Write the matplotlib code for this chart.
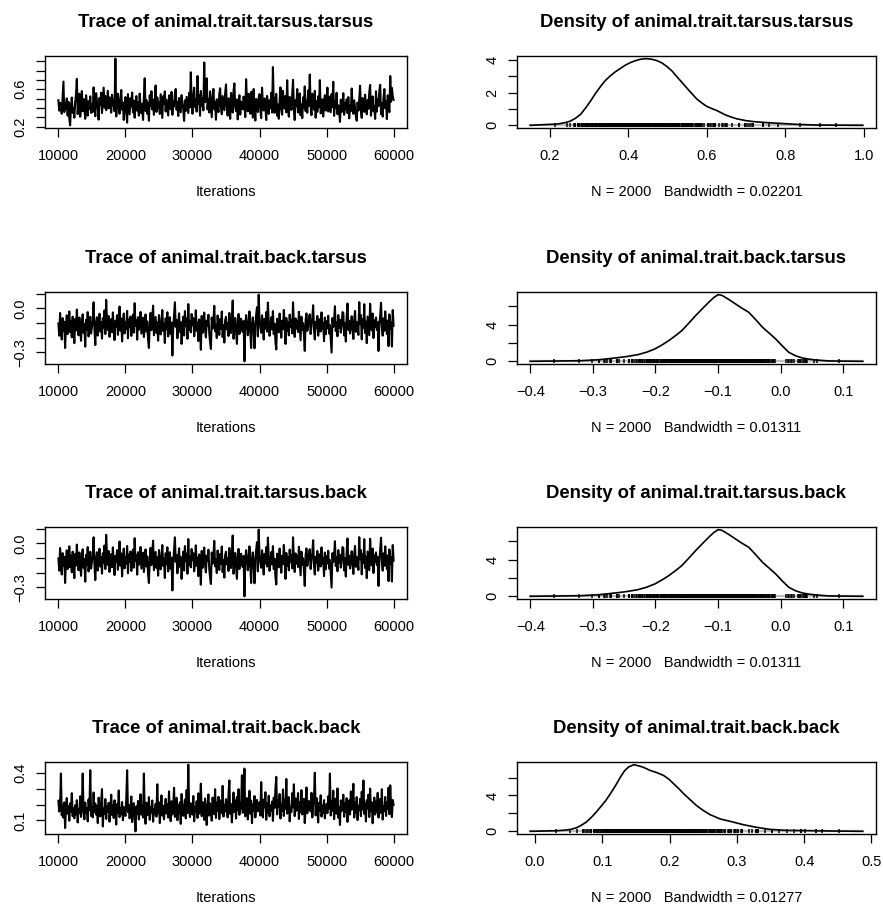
import numpy as np
import matplotlib
matplotlib.use('Agg')
import matplotlib.pyplot as plt

plt.rcParams['font.family'] = ['Liberation Sans', 'DejaVu Sans']
plt.rcParams['axes.unicode_minus'] = True

# Iteraciones de la cadena (muestreo aproximado cada 125)
iters = np.arange(10000, 60001, 125)

# Trazas
trace_tarsus_tarsus = [
    0.482, 0.371, 0.455, 0.402, 0.338, 0.521, 0.683, 0.356, 0.447, 0.392, 0.503, 0.318, 0.466, 0.287, 0.214, 0.425, 0.512, 0.348, 0.401, 0.296,
    0.462, 0.539, 0.712, 0.334, 0.471, 0.553, 0.306, 0.428, 0.581, 0.365, 0.497, 0.412, 0.284, 0.536, 0.443, 0.318, 0.472, 0.389, 0.525, 0.347,
    0.436, 0.358, 0.621, 0.414, 0.312, 0.559, 0.467, 0.392, 0.275, 0.508, 0.431, 0.563, 0.345, 0.486, 0.618, 0.402, 0.529, 0.377, 0.451, 0.583,
    0.396, 0.514, 0.462, 0.349, 0.541, 0.427, 0.488, 0.365, 0.928, 0.309, 0.476, 0.553, 0.412, 0.338, 0.497, 0.592, 0.381, 0.456, 0.272, 0.423,
    0.517, 0.364, 0.243, 0.548, 0.439, 0.331, 0.502, 0.415, 0.566, 0.352, 0.478, 0.296, 0.433, 0.527, 0.371, 0.462, 0.318, 0.554, 0.408, 0.343,
    0.446, 0.272, 0.521, 0.718, 0.367, 0.484, 0.339, 0.452, 0.263, 0.536, 0.418, 0.579, 0.383, 0.491, 0.327, 0.465, 0.641, 0.358, 0.513, 0.402,
    0.457, 0.336, 0.548, 0.412, 0.293, 0.526, 0.441, 0.578, 0.362, 0.488, 0.403, 0.319, 0.535, 0.456, 0.385, 0.572, 0.327, 0.473, 0.414, 0.549,
    0.603, 0.381, 0.462, 0.314, 0.507, 0.426, 0.355, 0.538, 0.447, 0.392, 0.262, 0.481, 0.368, 0.519, 0.433, 0.346, 0.562, 0.407, 0.782, 0.452,
    0.338, 0.526, 0.617, 0.409, 0.493, 0.361, 0.742, 0.445, 0.538, 0.317, 0.582, 0.426, 0.503, 0.374, 0.887, 0.462, 0.551, 0.718, 0.384, 0.496,
    0.352, 0.578, 0.431, 0.301, 0.515, 0.604, 0.386, 0.462, 0.274, 0.493, 0.418, 0.356, 0.547, 0.611, 0.402, 0.333, 0.528, 0.447, 0.376, 0.559,
    0.652, 0.394, 0.318, 0.503, 0.438, 0.283, 0.561, 0.472, 0.351, 0.584, 0.663, 0.409, 0.366, 0.491, 0.278, 0.452, 0.537, 0.329, 0.468, 0.413,
    0.385, 0.521, 0.446, 0.302, 0.708, 0.473, 0.364, 0.552, 0.418, 0.338, 0.574, 0.427, 0.296, 0.603, 0.388, 0.265, 0.496, 0.432, 0.357, 0.512,
    0.548, 0.372, 0.291, 0.617, 0.438, 0.373, 0.502, 0.412, 0.271, 0.529, 0.454, 0.336, 0.482, 0.398, 0.563, 0.351, 0.838, 0.423, 0.347, 0.492,
    0.551, 0.318, 0.436, 0.284, 0.472, 0.621, 0.389, 0.328, 0.583, 0.447, 0.394, 0.526, 0.353, 0.697, 0.412, 0.306, 0.518, 0.462, 0.379, 0.543,
    0.702, 0.385, 0.271, 0.482, 0.417, 0.603, 0.352, 0.468, 0.556, 0.322, 0.437, 0.291, 0.514, 0.402, 0.631, 0.366, 0.478, 0.348, 0.587, 0.425,
    0.758, 0.416, 0.323, 0.552, 0.437, 0.382, 0.583, 0.296, 0.471, 0.358, 0.524, 0.407, 0.698, 0.342, 0.386, 0.493, 0.308, 0.462, 0.537, 0.372,
    0.446, 0.618, 0.362, 0.521, 0.437, 0.354, 0.548, 0.412, 0.681, 0.315, 0.472, 0.398, 0.563, 0.333, 0.428, 0.371, 0.251, 0.489, 0.356, 0.438,
    0.558, 0.327, 0.452, 0.381, 0.493, 0.346, 0.517, 0.289, 0.426, 0.365, 0.608, 0.414, 0.337, 0.482, 0.395, 0.318, 0.263, 0.457, 0.372, 0.486,
    0.638, 0.371, 0.294, 0.507, 0.422, 0.358, 0.543, 0.413, 0.332, 0.486, 0.392, 0.571, 0.647, 0.317, 0.448, 0.524, 0.364, 0.416, 0.283, 0.579,
    0.362, 0.497, 0.421, 0.586, 0.648, 0.334, 0.452, 0.308, 0.513, 0.603, 0.397, 0.472, 0.281, 0.536, 0.428, 0.355, 0.742, 0.468, 0.615, 0.524,
    0.487]

trace_back_tarsus = [
    -0.104, -0.187, -0.032, -0.142, -0.213, -0.067, -0.156, -0.092, -0.271, -0.121, -0.048, -0.176, -0.113, -0.021, -0.163, -0.085, -0.198, -0.057, -0.134, -0.238,
    -0.072, -0.151, -0.009, -0.118, -0.184, -0.063, -0.137, -0.222, -0.096, -0.041, -0.167, -0.109, -0.262, -0.079, -0.145, -0.026, -0.192, -0.114, -0.058, -0.173,
    -0.127, -0.083, 0.041, -0.141, -0.251, -0.102, -0.061, -0.186, -0.119, -0.037, -0.158, -0.094, -0.207, -0.068, -0.132, -0.015, -0.176, 0.058, -0.089, -0.148,
    -0.053, -0.195, -0.117, -0.074, -0.163, -0.028, -0.138, -0.217, -0.086, -0.124, -0.047, -0.181, -0.101, 0.012, -0.152, -0.069, -0.226, -0.112, -0.036, -0.171,
    -0.093, -0.139, -0.018, -0.204, -0.077, -0.128, -0.056, -0.189, -0.108, -0.043, -0.166, 0.035, -0.121, -0.082, -0.214, -0.061, -0.147, -0.098, -0.025, -0.173,
    -0.117, -0.064, -0.196, -0.133, -0.042, -0.158, -0.089, -0.212, -0.271, -0.106, -0.031, -0.149, -0.073, 0.018, -0.184, -0.125, -0.059, -0.168, -0.097, -0.221,
    -0.046, -0.131, -0.178, -0.083, -0.012, -0.155, -0.104, -0.237, -0.068, -0.143, -0.027, -0.192, -0.115, -0.061, -0.174, -0.098, -0.322, -0.136, -0.052, 0.041,
    -0.126, -0.079, -0.205, -0.112, -0.034, -0.161, -0.093, -0.243, -0.138, -0.057, -0.186, -0.019, -0.122, -0.071, -0.208, 0.029, -0.147, -0.088, -0.164, -0.039,
    -0.113, -0.067, -0.191, -0.135, -0.014, -0.153, -0.098, -0.224, -0.076, -0.129, -0.283, -0.052, -0.168, -0.107, -0.029, -0.146, -0.199, -0.084, -0.121, -0.044,
    -0.172, -0.231, -0.278, -0.063, -0.139, -0.091, 0.017, -0.157, -0.108, -0.203, -0.049, -0.126, -0.182, -0.073, -0.141, -0.022, -0.197, -0.116, -0.234, -0.081,
    -0.058, -0.144, -0.101, -0.189, -0.032, -0.127, -0.169, -0.087, 0.053, -0.208, -0.119, -0.066, -0.153, -0.243, -0.094, -0.038, -0.176, -0.112, -0.071, -0.137,
    -0.162, -0.086, -0.362, -0.123, -0.047, -0.091, -0.184, -0.134, -0.021, -0.157, -0.271, -0.104, -0.062, -0.143, -0.273, -0.116, -0.045, 0.008, -0.192, 0.093,
    -0.083, -0.131, -0.167, -0.048, -0.109, -0.213, -0.072, -0.138, -0.026, -0.159, 0.039, -0.097, -0.188, -0.124, -0.061, -0.145, -0.019, -0.176, -0.105, -0.229,
    -0.281, -0.071, -0.118, -0.164, -0.036, -0.129, -0.201, -0.085, -0.142, -0.011, -0.107, -0.243, -0.066, -0.152, -0.094, -0.185, -0.043, -0.126, -0.078, -0.171,
    0.041, -0.114, -0.196, -0.069, -0.138, -0.088, -0.162, -0.024, -0.121, -0.218, -0.057, -0.146, -0.101, -0.178, -0.291, -0.082, -0.035, -0.154, -0.116, -0.063,
    -0.041, -0.176, -0.111, -0.068, 0.021, -0.149, -0.213, -0.092, -0.131, -0.052, -0.187, -0.119, -0.074, -0.158, -0.028, -0.141, -0.098, -0.224, -0.063, -0.177,
    -0.089, -0.136, -0.051, -0.172, -0.114, -0.203, -0.302, -0.067, -0.128, -0.083, 0.014, -0.156, -0.097, -0.191, -0.046, -0.133, -0.079, -0.166, -0.118, -0.026,
    -0.031, -0.185, -0.102, -0.227, -0.061, 0.033, -0.147, -0.085, -0.172, -0.119, -0.054, -0.139, -0.209, -0.076, -0.018, -0.161, -0.093, -0.128, -0.182, 0.042,
    -0.108, -0.047, -0.212, -0.074, -0.135, 0.028, -0.169, -0.091, -0.238, -0.056, -0.121, -0.184, 0.031, -0.099, -0.151, -0.036, -0.203, -0.082, -0.127, -0.062,
    -0.148, -0.094, -0.291, -0.113, -0.047, 0.038, -0.126, -0.187, -0.069, -0.154, -0.021, -0.109, -0.176, -0.083, -0.258, -0.042, -0.137, -0.095, -0.261, -0.012,
    -0.118]

# la covarianza es simetrica: misma cadena
trace_tarsus_back = list(trace_back_tarsus)

trace_back_back = [
    0.224, 0.156, 0.183, 0.396, 0.132, 0.197, 0.118, 0.214, 0.052, 0.167, 0.241, 0.143, 0.189, 0.098, 0.208, 0.154, 0.272, 0.127, 0.176, 0.113,
    0.195, 0.138, 0.228, 0.087, 0.171, 0.149, 0.253, 0.122, 0.186, 0.396, 0.161, 0.107, 0.213, 0.145, 0.178, 0.094, 0.233, 0.164, 0.417, 0.128,
    0.182, 0.119, 0.276, 0.151, 0.207, 0.136, 0.192, 0.083, 0.244, 0.166, 0.125, 0.218, 0.298, 0.062, 0.174, 0.141, 0.235, 0.109, 0.188, 0.153,
    0.211, 0.092, 0.169, 0.262, 0.134, 0.194, 0.115, 0.227, 0.158, 0.074, 0.203, 0.147, 0.289, 0.121, 0.176, 0.138, 0.216, 0.101, 0.185, 0.162,
    0.128, 0.236, 0.417, 0.152, 0.197, 0.113, 0.173, 0.251, 0.089, 0.164, 0.209, 0.126, 0.031, 0.188, 0.142, 0.223, 0.106, 0.179, 0.265, 0.137,
    0.194, 0.118, 0.396, 0.157, 0.079, 0.212, 0.168, 0.133, 0.247, 0.104, 0.183, 0.151, 0.226, 0.092, 0.171, 0.139, 0.205, 0.124, 0.328, 0.146,
    0.214, 0.083, 0.177, 0.258, 0.131, 0.192, 0.107, 0.169, 0.236, 0.144, 0.201, 0.118, 0.283, 0.156, 0.095, 0.221, 0.137, 0.185, 0.306, 0.122,
    0.173, 0.243, 0.101, 0.196, 0.148, 0.214, 0.078, 0.267, 0.159, 0.129, 0.188, 0.232, 0.113, 0.291, 0.146, 0.452, 0.176, 0.121, 0.208, 0.162,
    0.137, 0.254, 0.094, 0.182, 0.158, 0.221, 0.116, 0.271, 0.143, 0.199, 0.332, 0.127, 0.216, 0.168, 0.103, 0.238, 0.152, 0.071, 0.193, 0.264,
    0.131, 0.207, 0.166, 0.098, 0.244, 0.176, 0.139, 0.297, 0.115, 0.213, 0.162, 0.249, 0.108, 0.185, 0.227, 0.147, 0.318, 0.124, 0.198, 0.156,
    0.234, 0.172, 0.119, 0.263, 0.352, 0.141, 0.203, 0.087, 0.187, 0.276, 0.153, 0.226, 0.112, 0.248, 0.164, 0.297, 0.135, 0.211, 0.173, 0.385,
    0.148, 0.218, 0.427, 0.126, 0.195, 0.241, 0.106, 0.179, 0.287, 0.143, 0.225, 0.083, 0.201, 0.162, 0.254, 0.119, 0.188, 0.229, 0.157, 0.172,
    0.214, 0.131, 0.342, 0.167, 0.119, 0.232, 0.183, 0.278, 0.104, 0.207, 0.149, 0.256, 0.126, 0.193, 0.161, 0.219, 0.097, 0.244, 0.178, 0.301,
    0.375, 0.138, 0.226, 0.184, 0.267, 0.112, 0.203, 0.159, 0.296, 0.128, 0.231, 0.174, 0.362, 0.143, 0.209, 0.247, 0.094, 0.186, 0.153, 0.272,
    0.182, 0.328, 0.127, 0.238, 0.161, 0.201, 0.273, 0.109, 0.214, 0.152, 0.291, 0.138, 0.191, 0.236, 0.083, 0.177, 0.308, 0.145, 0.223, 0.168,
    0.221, 0.156, 0.274, 0.119, 0.196, 0.238, 0.401, 0.132, 0.242, 0.178, 0.087, 0.211, 0.163, 0.259, 0.124, 0.193, 0.147, 0.228, 0.113, 0.187,
    0.203, 0.146, 0.252, 0.174, 0.396, 0.131, 0.219, 0.161, 0.288, 0.108, 0.197, 0.238, 0.142, 0.302, 0.117, 0.183, 0.071, 0.226, 0.159, 0.194,
    0.262, 0.123, 0.208, 0.154, 0.241, 0.091, 0.187, 0.226, 0.137, 0.283, 0.168, 0.199, 0.331, 0.118, 0.215, 0.149, 0.247, 0.102, 0.192, 0.164,
    0.236, 0.127, 0.281, 0.169, 0.352, 0.141, 0.207, 0.093, 0.228, 0.176, 0.263, 0.121, 0.301, 0.158, 0.213, 0.082, 0.189, 0.244, 0.137, 0.219,
    0.153, 0.274, 0.118, 0.209, 0.236, 0.147, 0.297, 0.106, 0.191, 0.162, 0.248, 0.128, 0.214, 0.173, 0.307, 0.139, 0.322, 0.184, 0.121, 0.229,
    0.198]

# Curvas de densidad
dens_tt_x = [0.150, 0.219, 0.240, 0.252, 0.265, 0.278, 0.290, 0.303, 0.316, 0.329,
             0.341, 0.354, 0.367, 0.380, 0.392, 0.405, 0.418, 0.430, 0.440, 0.447,
             0.460, 0.473, 0.486, 0.498, 0.511, 0.523, 0.536, 0.549, 0.562, 0.574,
             0.587, 0.599, 0.612, 0.625, 0.637, 0.650, 0.663, 0.676, 0.701, 0.722,
             0.744, 0.765, 0.786, 0.828, 0.871, 0.920, 0.997]
dens_tt_y = [0.00, 0.08, 0.17, 0.26, 0.43, 0.67, 1.03, 1.47, 1.95, 2.38,
             2.74, 3.03, 3.28, 3.49, 3.68, 3.84, 3.96, 4.04, 4.07, 4.08,
             4.04, 3.96, 3.81, 3.60, 3.33, 2.99, 2.64, 2.28, 1.93, 1.62,
             1.37, 1.17, 1.03, 0.91, 0.76, 0.61, 0.50, 0.40, 0.28, 0.22,
             0.18, 0.15, 0.12, 0.06, 0.02, 0.01, 0.00]

dens_bt_x = [-0.400, -0.319, -0.290, -0.265, -0.246, -0.228, -0.214, -0.201, -0.190, -0.179,
             -0.168, -0.158, -0.147, -0.136, -0.125, -0.115, -0.107, -0.100, -0.094, -0.083,
             -0.072, -0.062, -0.051, -0.040, -0.029, -0.018, -0.008, 0.003, 0.013, 0.024,
             0.035, 0.046, 0.056, 0.077, 0.131]
dens_bt_y = [0.00, 0.07, 0.18, 0.36, 0.52, 0.73, 1.00, 1.35, 1.77, 2.25,
             2.80, 3.35, 4.15, 4.98, 5.75, 6.44, 6.95, 7.27, 7.20, 6.75,
             6.25, 5.80, 5.35, 4.55, 3.71, 3.05, 2.44, 1.65, 0.98, 0.60,
             0.36, 0.23, 0.15, 0.04, 0.00]
dens_tb_x = list(dens_bt_x)
dens_tb_y = list(dens_bt_y)

dens_bb_x = [-0.007, 0.033, 0.045, 0.053, 0.061, 0.068, 0.076, 0.083, 0.090, 0.097,
             0.105, 0.112, 0.120, 0.127, 0.133, 0.139, 0.147, 0.157, 0.164, 0.171,
             0.181, 0.191, 0.199, 0.206, 0.214, 0.221, 0.231, 0.240, 0.250, 0.260,
             0.275, 0.290, 0.309, 0.329, 0.349, 0.373, 0.413, 0.437, 0.487]
dens_bb_y = [0.00, 0.07, 0.14, 0.22, 0.38, 0.64, 1.02, 1.50, 2.06, 2.69,
             3.42, 4.19, 5.15, 6.06, 6.75, 7.18, 7.44, 7.25, 7.05, 6.80,
             6.55, 6.24, 5.82, 5.31, 4.74, 4.19, 3.50, 2.88, 2.33, 1.87,
             1.38, 1.12, 0.75, 0.45, 0.22, 0.11, 0.07, 0.04, 0.00]

names = ['animal.trait.tarsus.tarsus', 'animal.trait.back.tarsus',
         'animal.trait.tarsus.back', 'animal.trait.back.back']
bandwidths = ['0.02201', '0.01311', '0.01311', '0.01277']
traces = [trace_tarsus_tarsus, trace_back_tarsus, trace_tarsus_back, trace_back_back]
dens_x = [dens_tt_x, dens_bt_x, dens_tb_x, dens_bb_x]
dens_y = [dens_tt_y, dens_bt_y, dens_tb_y, dens_bb_y]

trace_yticks = [[0.2, 0.3, 0.4, 0.5, 0.6, 0.7, 0.8, 0.9],
                [0.1, 0.0, -0.1, -0.2, -0.3],
                [0.1, 0.0, -0.1, -0.2, -0.3],
                [0.1, 0.2, 0.3, 0.4]]
trace_ylabels = [['0.2', '', '', '', '0.6', '', '', ''],
                 ['', '0.0', '', '', '\u22120.3'],
                 ['', '0.0', '', '', '\u22120.3'],
                 ['0.1', '', '', '0.4']]
dens_yticks = [[0, 1, 2, 3, 4], [0, 2, 4, 6], [0, 2, 4, 6], [0, 2, 4, 6]]
dens_ylabels = [['0', '', '2', '', '4'], ['0', '', '4', ''], ['0', '', '4', ''], ['0', '', '4', '']]
dens_xticks = [[0.2, 0.4, 0.6, 0.8, 1.0],
               [-0.4, -0.3, -0.2, -0.1, 0.0, 0.1],
               [-0.4, -0.3, -0.2, -0.1, 0.0, 0.1],
               [0.0, 0.1, 0.2, 0.3, 0.4, 0.5]]

W, H = 883, 909
fig = plt.figure(figsize=(W / 100, H / 100), dpi=100)

tops = [56, 292, 527, 762]
box_h = 72
left_col = (45, 362)
right_col = (517, 359)


def fmt(v):
    s = '%.1f' % abs(v)
    return ('\u2212' + s) if v < -1e-9 else s


def style_axes(ax):
    for s in ax.spines.values():
        s.set_linewidth(1.0)
    ax.tick_params(axis='both', direction='out', length=6.5, width=0.9,
                   labelsize=10.5, colors='black')
    ax.tick_params(axis='x', pad=8.5)
    ax.tick_params(axis='y', pad=6)


def r_lim(lo, hi):
    d = (hi - lo) * 0.04
    return lo - d, hi + d


for i in range(4):
    top = tops[i]
    y0 = 1 - (top + box_h) / H
    h = box_h / H

    # traza
    ax = fig.add_axes([left_col[0] / W, y0, left_col[1] / W, h])
    ax.plot(iters, traces[i], color='black', lw=1.5)
    ax.set_xlim(8000, 62000)
    ax.set_ylim(*r_lim(min(traces[i]), max(traces[i])))
    ax.set_xticks([10000, 20000, 30000, 40000, 50000, 60000])
    ax.set_xticklabels(['10000', '20000', '30000', '40000', '50000', '60000'])
    ax.set_yticks(trace_yticks[i])
    ax.set_yticklabels(trace_ylabels[i], rotation=90, va='center')
    style_axes(ax)
    cx = (left_col[0] + left_col[1] / 2) / W
    fig.text(cx, 1 - (top - 29) / H, 'Trace of ' + names[i], ha='center',
             va='baseline', fontsize=13.3, fontweight='bold')
    fig.text(cx, 1 - (top + 140) / H, 'Iterations', ha='center',
             va='baseline', fontsize=10.5)

    # densidad
    ax = fig.add_axes([right_col[0] / W, y0, right_col[1] / W, h])
    xs, ys = dens_x[i], dens_y[i]
    ymax = max(ys)
    ax.plot([xs[0], xs[-1]], [0, 0], color='#bdbdbd', lw=1.6, zorder=1)
    ax.plot(xs, ys, color='black', lw=1.2, zorder=3)
    ax.plot(traces[i], [ymax / 100] * len(traces[i]), ls='none', marker='|',
            ms=2.2, mew=1.1, color='black', zorder=2)
    ax.set_xlim(*r_lim(xs[0], xs[-1]))
    ax.set_ylim(*r_lim(0, ymax))
    ax.set_xticks(dens_xticks[i])
    ax.set_xticklabels([fmt(v) for v in dens_xticks[i]])
    ax.set_yticks(dens_yticks[i])
    ax.set_yticklabels(dens_ylabels[i], rotation=90, va='center')
    style_axes(ax)
    cx = (right_col[0] + right_col[1] / 2) / W
    fig.text(cx, 1 - (top - 29) / H, 'Density of ' + names[i], ha='center',
             va='baseline', fontsize=13.3, fontweight='bold')
    fig.text(cx, 1 - (top + 140) / H, 'N = 2000   Bandwidth = ' + bandwidths[i],
             ha='center', va='baseline', fontsize=10.5)

fig.savefig('out.png', dpi=100)
